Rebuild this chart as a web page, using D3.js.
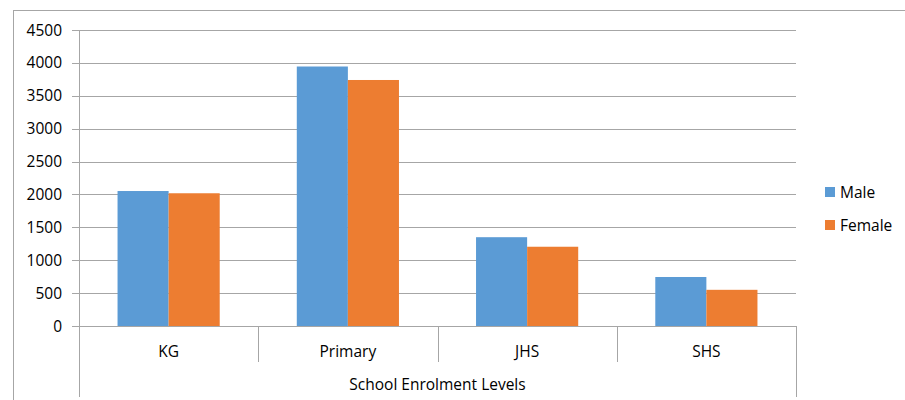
<!DOCTYPE html>
<html>
<meta charset="utf-8" />
<script src="https://d3js.org/d3.v7.min.js"></script>
<style>
  body { margin: 0; background: #fff; }
  text { font-family: "Open Sans", "Liberation Sans", sans-serif; fill: #000; font-size: 15.5px; }
</style>
<body>
<svg id="chart" width="905" height="400"></svg>
<script>
// data
var levels = ["KG", "Primary", "JHS", "SHS"]
var seriesNames = ["Male", "Female"]
var male = [2052, 3945, 1350, 745]
var female = [2018, 3740, 1205, 550]
var yTicks = [0, 500, 1000, 1500, 2000, 2500, 3000, 3500, 4000, 4500]
var colors = ["#5B9BD5", "#ED7D31"]

var svg = d3.select("#chart")
var margin = { left: 79, top: 30, right: 796, bottom: 326 }

// outer chart border
svg.append("rect")
  .attr("x", 13.5).attr("y", 10.5)
  .attr("width", 905).attr("height", 400)
  .attr("fill", "none").attr("stroke", "#a6a6a6")

var x0 = d3.scaleBand().domain(levels).range([margin.left, margin.right]).padding(0)
var x1 = d3.scaleBand().domain(seriesNames)
  .range([x0.bandwidth() * 0.215, x0.bandwidth() * 0.785]).padding(0)
var y = d3.scaleLinear().domain([0, 4500]).range([margin.bottom, margin.top])

// gridlines + y labels
svg.append("g").selectAll("line").data(yTicks).enter().append("line")
  .attr("x1", margin.left - 7).attr("x2", margin.right)
  .attr("y1", d => Math.round(y(d)) + 0.5).attr("y2", d => Math.round(y(d)) + 0.5)
  .attr("stroke", "#a6a6a6").attr("stroke-width", 1)

svg.append("g").selectAll("text").data(yTicks).enter().append("text")
  .attr("x", margin.left - 17).attr("y", d => y(d) + 5.5)
  .attr("text-anchor", "end")
  .text(d => d)

// bars
var data = levels.map((l, i) => ({ level: l, values: [male[i], female[i]] }))
svg.append("g").selectAll("g").data(data).enter().append("g")
  .attr("transform", d => "translate(" + x0(d.level) + ",0)")
  .selectAll("rect").data(d => d.values.map((v, j) => ({ key: seriesNames[j], v: v, j: j })))
  .enter().append("rect")
  .attr("x", d => x1(d.key))
  .attr("width", x1.bandwidth())
  .attr("y", d => y(d.v))
  .attr("height", d => y(0) - y(d.v))
  .attr("fill", d => colors[d.j])

// axis lines
var ax = svg.append("g").attr("stroke", "#a6a6a6").attr("stroke-width", 1)
ax.append("line").attr("x1", margin.left + 0.5).attr("x2", margin.left + 0.5)
  .attr("y1", margin.top).attr("y2", 397)
ax.append("line").attr("x1", margin.right + 0.5).attr("x2", margin.right + 0.5)
  .attr("y1", margin.bottom).attr("y2", 397)
ax.selectAll(".div").data(levels.slice(1)).enter().append("line")
  .attr("x1", d => Math.round(x0(d)) + 0.5).attr("x2", d => Math.round(x0(d)) + 0.5)
  .attr("y1", margin.bottom).attr("y2", 362)

// category labels
svg.append("g").selectAll("text").data(levels).enter().append("text")
  .attr("x", d => x0(d) + x0.bandwidth() / 2).attr("y", 357)
  .attr("text-anchor", "middle")
  .text(d => d)

svg.append("text")
  .attr("x", (margin.left + margin.right) / 2).attr("y", 390)
  .attr("text-anchor", "middle")
  .text("School Enrolment Levels")

// legend
var legend = svg.append("g").selectAll("g").data(seriesNames).enter().append("g")
  .attr("transform", (d, i) => "translate(825," + (187 + i * 33) + ")")
legend.append("rect").attr("width", 10).attr("height", 10).attr("fill", (d, i) => colors[i])
legend.append("text").attr("x", 15).attr("y", 10.5).text(d => d)
</script>
</body>
</html>
